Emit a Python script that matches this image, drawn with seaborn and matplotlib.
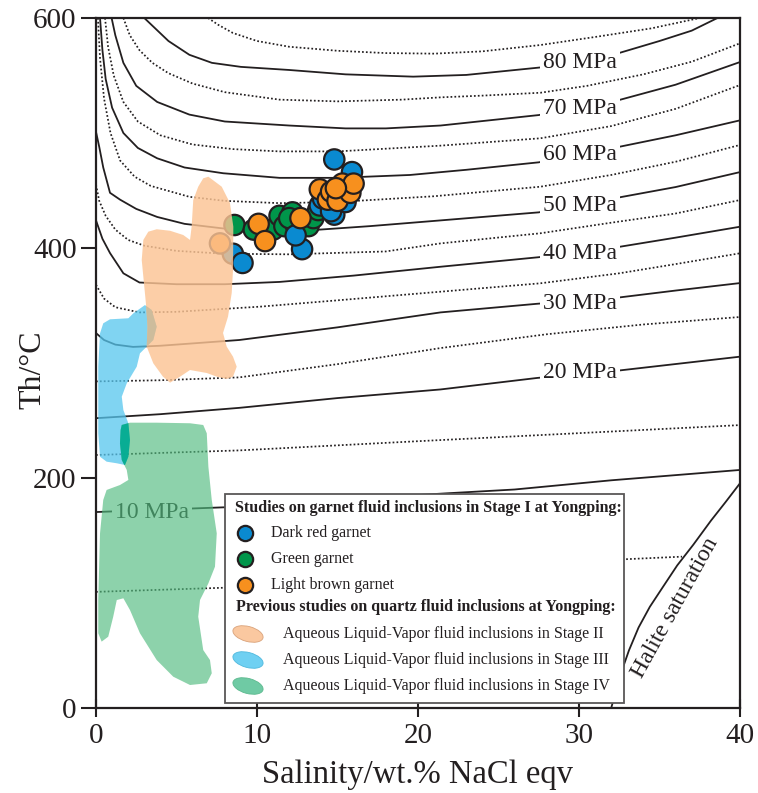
import numpy as np
import pandas as pd
import matplotlib
matplotlib.use("Agg")
import matplotlib.pyplot as plt
import seaborn as sns
from matplotlib.patches import Rectangle, Ellipse, Polygon
from matplotlib.lines import Line2D

# ---------------- data ----------------
# Fluid inclusion microthermometry (salinity wt.% NaCl eqv, Th °C)
dark_red_sal = [8.5, 9.1, 12.8, 12.4, 13.9, 14.1, 14.8, 14.6, 14.8, 15.9, 15.5]
dark_red_th = [395, 387, 399, 411, 437, 443, 429, 432, 477, 466, 440]
green_sal = [8.6, 9.8, 11.0, 11.4, 11.7, 12.2, 12.4, 13.1, 13.2, 13.5, 13.8, 12.0]
green_th = [420, 416, 416, 428, 419, 431, 420, 423, 419, 426, 433, 426]
brown_sal = [7.7, 10.1, 10.5, 12.7, 13.9, 14.4, 14.6, 15.0, 15.3, 15.8, 16.0, 14.9]
brown_th = [404, 421, 406, 426, 451, 442, 449, 441, 456, 448, 456, 452]

# Isobars (MPa): (salinity, Th) vertices
iso85 = [(6.96, 600), (7.6, 594), (8.5, 587), (10, 580), (12, 575), (15, 571.5), (18, 569.5), (21, 569),
         (24, 571), (27.6, 576.5), (31, 583.5), (34.5, 591), (37.5, 600)]
iso80 = [(3.0, 600), (3.6, 592), (4.5, 580), (5.8, 568), (7.2, 561), (9, 557.5), (12, 554.8), (15.5, 551),
         (19.7, 549), (23, 550.5), (27.6, 557), (30, 562.5), (32.5, 569.6), (35, 580), (37, 589), (38.6, 600)]
iso75 = [(1.7, 600), (2.1, 585), (2.7, 572), (3.5, 561), (4.5, 552), (6, 543), (8, 535.5), (11.4, 529),
         (15, 527.5), (19, 529), (21.4, 531), (24, 532.5), (27.6, 535), (30.5, 541), (34, 551), (37, 562), (40, 578)]
iso70 = [(0.97, 600), (1.2, 585), (1.7, 561), (2.5, 541), (3.8, 527), (5.8, 516), (8, 510), (12, 506.5),
         (15.5, 504), (18, 504), (21.4, 506.5), (27.5, 515.6), (32.5, 528.7), (36, 542), (40, 561.7)]
iso65 = [(0.56, 600), (0.75, 575), (1.1, 550), (1.7, 527), (2.6, 510), (4, 498), (6, 490), (8.5, 486),
         (11.4, 484), (15, 484), (21.4, 489), (27.6, 495.4), (32, 506), (36, 521), (40, 541.7)]
iso60 = [(0.25, 600), (0.4, 572), (0.6, 547), (1.0, 522), (1.7, 500), (2.6, 487), (3.8, 478), (5.5, 470),
         (7.9, 465), (11.4, 461), (15, 461), (19.5, 463.5), (23, 468), (27.5, 474.5), (32.5, 488), (36, 498), (40, 511)]
iso55 = [(0.12, 600), (0.25, 565), (0.5, 530), (0.9, 500), (1.5, 476), (2.4, 462), (3.4, 454), (5.8, 444.5),
         (8, 441), (11.4, 439), (15, 440), (21, 445), (27.6, 453.3), (32, 463.5), (36, 475), (40, 489.6)]
iso50 = [(0, 501), (0.2, 488), (0.45, 470), (0.87, 448), (1.5, 442), (2.5, 434), (3.8, 427), (5.5, 421),
         (7.9, 417), (10.2, 414.5), (13.5, 415.6), (17, 419), (21.4, 424), (27.5, 431), (32.5, 444), (36, 453), (40, 466)]
iso45 = [(0, 455), (0.2, 441), (0.6, 428), (1.2, 416), (2, 407), (3, 402), (5, 397.5), (8, 395), (12, 394.5),
         (18, 397), (21.4, 404), (27.6, 412.8), (32, 422), (36, 430), (40, 441.7)]
iso40 = [(0, 424), (0.4, 408), (0.87, 395.6), (1.7, 378), (2.7, 370), (5, 368.5), (8, 368.5), (11.4, 370.5),
         (16, 376), (21.4, 383.7), (27.5, 392), (32.5, 401), (36, 409), (40, 418.5)]
iso35 = [(0, 368), (0.5, 356), (1.2, 348.5), (2.7, 344), (5, 344.5), (10.2, 349), (15, 354.5), (21.4, 362),
         (27.6, 369.3), (32.5, 378), (36, 386), (40, 395.4)]
iso30 = [(0, 326), (0.5, 320), (1.2, 316), (2.3, 314), (4, 315), (8.9, 320), (15, 331), (21.4, 344),
         (27.4, 351.5), (32.5, 357), (36, 363), (40, 369.5)]
iso25 = [(0, 284), (4, 285), (8.9, 287.5), (15, 299), (21.4, 313), (28, 325), (34, 333.5), (40, 340)]
iso20 = [(0, 252), (4, 255.5), (8.9, 261), (15, 269.5), (21.4, 277), (27.4, 287), (32.5, 293.5), (40, 305.5)]
iso15 = [(0, 220), (8.9, 224), (20, 232), (30, 239), (40, 246)]
iso10 = [(0, 170.4), (8.9, 175), (15, 181), (21.8, 186.7), (26, 190), (32, 198), (40, 207)]
iso5 = [(0, 101), (8.9, 105), (20, 115), (32.3, 129), (36.4, 131.6)]
halite = [(32.0, 0), (32.2, 10), (32.6, 30), (33.1, 50), (33.7, 70), (34.4, 88), (35.2, 105), (36.1, 124),
          (37.1, 142), (38.2, 163), (39.1, 179), (40, 195.4)]

solid_isobars = {10: iso10, 20: iso20, 30: iso30, 40: iso40, 50: iso50, 60: iso60, 70: iso70, 80: iso80}
dotted_isobars = {5: iso5, 15: iso15, 25: iso25, 35: iso35, 45: iso45, 55: iso55, 65: iso65, 75: iso75, 85: iso85}

# Isobar label anchors (salinity, Th)
label_pressures = [80, 70, 60, 50, 40, 30, 20]
label_th = [561.7, 521.7, 481, 437, 395.6, 352, 292]
label_sal = 30.06

# Quartz fluid inclusion fields (outline vertices)
stage2_field = [(6.98, 462.0), (7.81, 453.3), (8.32, 439.1), (8.53, 418.5), (8.51, 380.9), (8.43, 360.9),
                (8.20, 340.3), (7.89, 326.1), (8.12, 314.2), (8.51, 305.5), (8.74, 296.8), (8.51, 288.1),
                (8.12, 286.1), (7.50, 288.1), (6.88, 291.3), (5.84, 293.9), (5.22, 288.1), (4.60, 282.9),
                (4.16, 288.1), (3.56, 299.7), (3.15, 314.2), (3.20, 331.6), (3.10, 351.9), (2.94, 375.0),
                (2.84, 389.6), (2.94, 407.0), (3.25, 414.2), (3.77, 416.3), (4.60, 415.0), (5.42, 411.3),
                (5.84, 407.0), (5.94, 418.5), (6.04, 441.7), (6.35, 453.3), (6.66, 460.6)]
stage3_field = [(3.04, 350.4), (2.32, 343.2), (2.01, 338.9), (0.87, 338.0), (0.45, 334.5), (0.25, 325.8),
                (0.14, 296.8), (0.14, 267.8), (0.14, 238.9), (0.25, 218.5), (0.66, 214.2), (1.29, 212.8),
                (1.80, 211.3), (2.01, 218.5), (2.11, 233.0), (2.01, 247.6), (1.70, 259.1), (1.60, 270.7),
                (1.91, 282.3), (2.53, 296.8), (2.73, 308.4), (3.56, 320.0), (3.77, 331.6), (3.46, 346.1)]
stage4_field = [(1.60, 246.1), (2.11, 248.1), (3.77, 248.1), (5.84, 247.6), (6.66, 246.1), (6.88, 238.9),
                (6.98, 209.8), (7.19, 180.9), (7.50, 151.9), (7.39, 122.9), (6.98, 108.4), (6.46, 93.9),
                (6.35, 79.4), (6.66, 50.4), (7.08, 41.7), (7.19, 30.2), (6.88, 21.5), (5.84, 20.0),
                (4.80, 27.2), (3.77, 41.7), (2.73, 65.0), (2.11, 85.2), (1.70, 95.4), (1.29, 93.9),
                (1.07, 79.4), (0.76, 62.0), (0.35, 57.7), (0.14, 65.0), (0.14, 93.9), (0.25, 151.9),
                (0.45, 180.9), (0.66, 189.6), (1.49, 193.9), (2.01, 198.3), (1.91, 207.0), (1.60, 215.7),
                (1.49, 230.2), (1.53, 241.7)]

# ---------------- style ----------------
sns.set_theme(style="ticks")
plt.rcParams["font.family"] = ["Liberation Serif", "DejaVu Sans"]
INK = "#231f20"
C_BLUE, C_GREEN, C_ORANGE = "#0a8ad0", "#00954a", "#f7901e"
# (fill colour, opacity) of each quartz field
F_ORANGE, A_ORANGE = "#fcc494", 0.82
F_BLUE, A_BLUE = "#56c6ee", 0.75
F_GREEN, A_GREEN = "#50bb7e", 0.65
# colours where two fields overlap
OV_BLUE_GREEN = "#00ab92"
OV_ORANGE_BLUE = "#cbbb9c"
# legend swatch colours
L_ORANGE, L_BLUE, L_GREEN = "#fac8a0", "#6fd0f2", "#6fcaa4"

W, H = 758, 793
fig = plt.figure(figsize=(W / 100, H / 100), dpi=100)
ax = fig.add_axes([96 / W, 1 - 708 / H, 644 / W, 690 / H])

# ---------------- isobars ----------------
for p, pts in solid_isobars.items():
    d = pd.DataFrame(pts, columns=["sal", "th"])
    sns.lineplot(data=d, x="sal", y="th", sort=False, estimator=None, ax=ax,
                 color=INK, lw=1.3, zorder=1)
for p, pts in dotted_isobars.items():
    d = pd.DataFrame(pts, columns=["sal", "th"])
    sns.lineplot(data=d, x="sal", y="th", sort=False, estimator=None, ax=ax,
                 color=INK, lw=1.25, linestyle=(0, (1.0, 1.25)), zorder=1)
hd = pd.DataFrame(halite, columns=["sal", "th"])
sns.lineplot(data=hd, x="sal", y="th", sort=False, estimator=None, ax=ax, color=INK, lw=1.3, zorder=1)

for p, t in zip(label_pressures, label_th):
    ax.text(label_sal, t, f"{p} MPa", ha="center", va="center", fontsize=17, color=INK, zorder=2,
            bbox=dict(boxstyle="square,pad=0.12", fc="white", ec="none"))
ax.text(3.48, 170.4, "10 MPa", ha="center", va="center", fontsize=17, color=INK, zorder=2,
        bbox=dict(boxstyle="square,pad=0.12", fc="white", ec="none"))
ax.text(35.96, 87, "Halite saturation", ha="center", va="center", rotation=61,
        rotation_mode="anchor", fontsize=17, color=INK, zorder=2)

# ---------------- garnet inclusions ----------------
pts = pd.concat([
    pd.DataFrame({"sal": green_sal, "th": green_th, "type": "Green garnet"}),
    pd.DataFrame({"sal": dark_red_sal, "th": dark_red_th, "type": "Dark red garnet"}),
    pd.DataFrame({"sal": brown_sal, "th": brown_th, "type": "Light brown garnet"}),
], ignore_index=True)
sns.scatterplot(data=pts, x="sal", y="th", hue="type", ax=ax, s=215, linewidth=1.6, edgecolor=INK,
                palette={"Dark red garnet": C_BLUE, "Green garnet": C_GREEN, "Light brown garnet": C_ORANGE},
                legend=False, zorder=3)

# ---------------- quartz inclusion fields ----------------
for poly, col, a in [(stage3_field, F_BLUE, A_BLUE), (stage4_field, F_GREEN, A_GREEN),
                     (stage2_field, F_ORANGE, A_ORANGE)]:
    xs, ys = zip(*poly)
    ax.fill(xs, ys, color=col, alpha=a, lw=0, zorder=4)

# darker tint where fields overlap: one field clipped by another
for poly, clip, col in [(stage3_field, stage4_field, OV_BLUE_GREEN),
                        (stage3_field, stage2_field, OV_ORANGE_BLUE)]:
    over = Polygon(poly, closed=True, fc=col, ec="none", alpha=0.9, zorder=4.5)
    ax.add_patch(over)
    clip_patch = Polygon(clip, closed=True, transform=ax.transData)
    over.set_clip_path(clip_patch)

# ---------------- axes ----------------
ax.set_xlim(0, 40)
ax.set_ylim(0, 600)
ax.set_xticks([0, 10, 20, 30, 40])
ax.set_yticks([0, 200, 400, 600])
for sp in ax.spines.values():
    sp.set_color(INK)
    sp.set_linewidth(1.6)
    sp.set_zorder(6)
ax.tick_params(axis="x", direction="inout", length=13, width=1.5, color=INK, labelsize=21, pad=4,
               labelcolor=INK)
ax.tick_params(axis="y", direction="out", length=11, width=1.5, color=INK, labelsize=21, pad=3,
               labelcolor=INK)
ax.set_xlabel("Salinity/wt.% NaCl eqv", fontsize=23.5, color=INK, labelpad=8)
ax.set_ylabel("Th/°C", fontsize=23, color=INK)
ax.yaxis.set_label_coords(-0.076, 0.49)

# ---------------- legend ----------------
def fx(x):
    return x / W

def fy(y):
    return 1 - y / H

fig.add_artist(Rectangle((225 / 100, (H - 703) / 100), 3.99, 2.09, transform=fig.dpi_scale_trans,
                         fc="white", ec="#595757", lw=1.3, zorder=20))
fs = 11.5
fig.text(fx(235), fy(508), "Studies on garnet fluid inclusions in Stage I at Yongping:", fontsize=fs,
         fontweight="bold", color=INK, va="center", zorder=21)
fig.text(fx(236), fy(607), "Previous studies on quartz fluid inclusions at Yongping:", fontsize=fs,
         fontweight="bold", color=INK, va="center", zorder=21)
for yy, col, lab in [(533, C_BLUE, "Dark red garnet"), (559, C_GREEN, "Green garnet"),
                     (585, C_ORANGE, "Light brown garnet")]:
    fig.add_artist(Line2D([fx(245)], [fy(yy)], transform=fig.transFigure, marker="o", ms=11,
                          mfc=col, mec=INK, mew=1.6, ls="none", zorder=21))
    fig.text(fx(271), fy(yy), lab, fontsize=fs, color=INK, va="center", zorder=21)
for yy, col, ecol, lab in [(634, L_ORANGE, "#d9a27a", "Aqueous Liquid-Vapor fluid inclusions in Stage II"),
                           (660, L_BLUE, "#4fb8dd", "Aqueous Liquid-Vapor fluid inclusions in Stage III"),
                           (686, L_GREEN, "#5cb98e", "Aqueous Liquid-Vapor fluid inclusions in Stage IV")]:
    fig.add_artist(Ellipse((248 / 100, (H - yy) / 100), 0.31, 0.15, angle=-15, transform=fig.dpi_scale_trans,
                           fc=col, ec=ecol, lw=0.6, zorder=21))
    fig.text(fx(283), fy(yy), lab, fontsize=fs, color=INK, va="center", zorder=21)

fig.savefig("out.png", dpi=100)
